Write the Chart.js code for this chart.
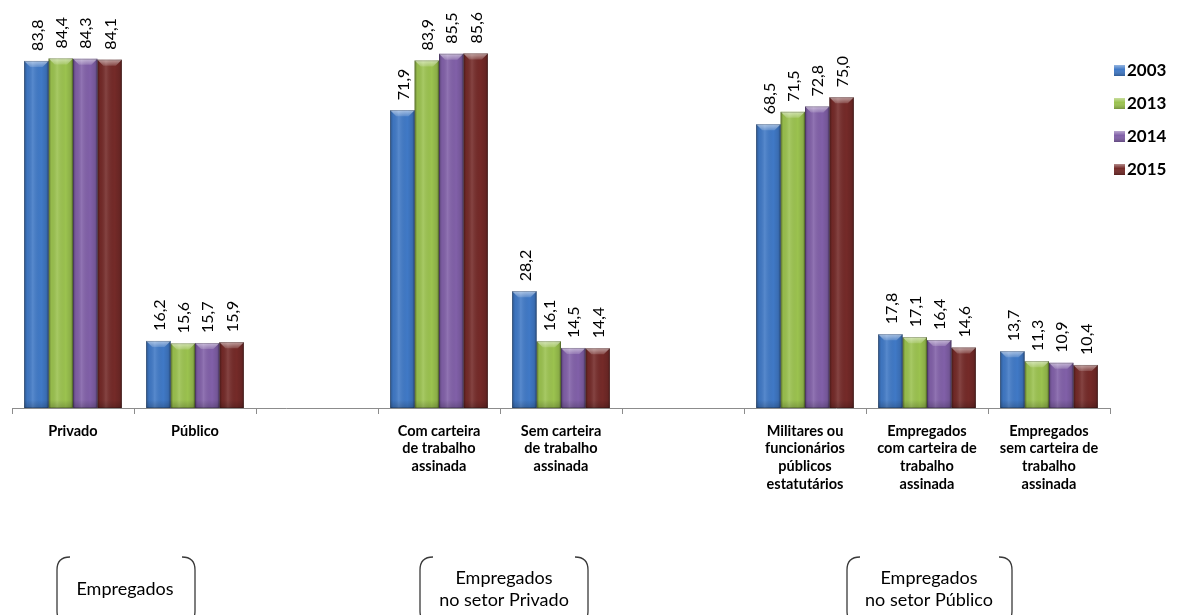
<!DOCTYPE html>
<html>
<head>
<meta charset="utf-8">
<script src="https://cdn.jsdelivr.net/npm/chart.js@4/dist/chart.umd.min.js"></script>
<style>
  html, body { margin: 0; padding: 0; background: #fff; }
  #wrap { width: 1187px; height: 615px; position: relative; }
</style>
</head>
<body>
<div id="wrap"><canvas id="c" width="1187" height="615"></canvas></div>
<script>
// Categories (blank slots separate the three groups)
const categories = [
  ['Privado'],
  ['Público'],
  '',
  ['Com carteira', 'de trabalho', 'assinada'],
  ['Sem carteira', 'de trabalho', 'assinada'],
  '',
  ['Militares ou', 'funcionários', 'públicos', 'estatutários'],
  ['Empregados', 'com carteira de', 'trabalho', 'assinada'],
  ['Empregados', 'sem carteira de', 'trabalho', 'assinada']
];

const years = ['2003', '2013', '2014', '2015'];

// Percentages per year
const values2003 = [83.8, 16.2, null, 71.9, 28.2, null, 68.5, 17.8, 13.7];
const values2013 = [84.4, 15.6, null, 83.9, 16.1, null, 71.5, 17.1, 11.3];
const values2014 = [84.3, 15.7, null, 85.5, 14.5, null, 72.8, 16.4, 10.9];
const values2015 = [84.1, 15.9, null, 85.6, 14.4, null, 75.0, 14.6, 10.4];

// Group captions shown in brackets below the axis
const groupCaptions = [
  ['Empregados'],
  ['Empregados', 'no setor Privado'],
  ['Empregados', 'no setor Público']
];

const seriesColors = ['#4079c6', '#9bc24f', '#8160a8', '#742a28'];
const FONT = 'Lato, "Open Sans", sans-serif';

const fmt = v => v.toFixed(1).replace('.', ',');

// Bevel / gloss on each bar
const bevelPlugin = {
  id: 'bevel',
  afterDatasetsDraw(chart) {
    const ctx = chart.ctx;
    chart.data.datasets.forEach((ds, di) => {
      const meta = chart.getDatasetMeta(di);
      meta.data.forEach((el, i) => {
        if (ds.data[i] == null) return;
        const p = el.getProps(['x', 'y', 'base', 'width'], true);
        const l = p.x - p.width / 2, r = p.x + p.width / 2;
        const t = p.y, b = p.base, w = p.width;
        ctx.save();
        // horizontal shading
        const g = ctx.createLinearGradient(l, 0, r, 0);
        g.addColorStop(0, 'rgba(0,0,0,0.30)');
        g.addColorStop(0.12, 'rgba(0,0,0,0.04)');
        g.addColorStop(0.35, 'rgba(255,255,255,0.12)');
        g.addColorStop(0.7, 'rgba(0,0,0,0.0)');
        g.addColorStop(0.9, 'rgba(0,0,0,0.10)');
        g.addColorStop(1, 'rgba(0,0,0,0.32)');
        ctx.fillStyle = g;
        ctx.fillRect(l, t, w, b - t);
        // top bevel
        const bv = Math.min(6, (b - t) / 2);
        const tg = ctx.createLinearGradient(0, t, 0, t + bv);
        tg.addColorStop(0, 'rgba(255,255,255,0.55)');
        tg.addColorStop(1, 'rgba(255,255,255,0.15)');
        ctx.fillStyle = tg;
        ctx.beginPath();
        ctx.moveTo(l, t);
        ctx.lineTo(r, t);
        ctx.lineTo(r - bv, t + bv);
        ctx.lineTo(l + bv, t + bv);
        ctx.closePath();
        ctx.fill();
        // bottom darkening
        const bg = ctx.createLinearGradient(0, b - 8, 0, b);
        bg.addColorStop(0, 'rgba(0,0,0,0)');
        bg.addColorStop(1, 'rgba(0,0,0,0.18)');
        ctx.fillStyle = bg;
        ctx.fillRect(l, b - 8, w, 8);
        // outline
        ctx.strokeStyle = 'rgba(0,0,0,0.25)';
        ctx.lineWidth = 0.8;
        ctx.strokeRect(l + 0.4, t + 0.4, w - 0.8, b - t - 0.8);
        ctx.restore();
      });
    });
  }
};

// Rotated value labels above bars
const valueLabelPlugin = {
  id: 'valueLabels',
  afterDatasetsDraw(chart) {
    const ctx = chart.ctx;
    ctx.save();
    ctx.font = '16px ' + FONT;
    ctx.fillStyle = '#000';
    ctx.textAlign = 'left';
    ctx.textBaseline = 'middle';
    chart.data.datasets.forEach((ds, di) => {
      const meta = chart.getDatasetMeta(di);
      meta.data.forEach((el, i) => {
        const v = ds.data[i];
        if (v == null) return;
        const p = el.getProps(['x', 'y'], true);
        ctx.save();
        ctx.translate(p.x + 1, p.y - 10);
        ctx.rotate(-Math.PI / 2);
        ctx.fillText(fmt(v), 0, 0);
        ctx.restore();
      });
    });
    ctx.restore();
  }
};

// Legend on the right
const sideLegendPlugin = {
  id: 'sideLegend',
  afterDraw(chart) {
    const ctx = chart.ctx;
    const x = 1114, y0 = 70, step = 33;
    ctx.save();
    ctx.font = 'bold 17px ' + FONT;
    ctx.textBaseline = 'middle';
    ctx.textAlign = 'left';
    chart.data.datasets.forEach((ds, i) => {
      const y = y0 + i * step;
      ctx.fillStyle = ds.backgroundColor;
      ctx.fillRect(x, y - 5, 11, 11);
      const g = ctx.createLinearGradient(0, y - 5, 0, y + 6);
      g.addColorStop(0, 'rgba(255,255,255,0.45)');
      g.addColorStop(0.4, 'rgba(255,255,255,0)');
      g.addColorStop(1, 'rgba(0,0,0,0.25)');
      ctx.fillStyle = g;
      ctx.fillRect(x, y - 5, 11, 11);
      ctx.fillStyle = '#000';
      ctx.fillText(ds.label, x + 13, y + 1);
    });
    ctx.restore();
  }
};

// Bracketed group captions
const groupBoxPlugin = {
  id: 'groupBoxes',
  afterDraw(chart) {
    const ctx = chart.ctx;
    const boxes = [
      { l: 57, r: 195, cx: 125 },
      { l: 420, r: 588, cx: 504 },
      { l: 847, r: 1012, cx: 929 }
    ];
    const top = 557, bottom = 624, rad = 13;
    ctx.save();
    ctx.strokeStyle = '#3a3a3a';
    ctx.lineWidth = 1.3;
    boxes.forEach((b, i) => {
      // left bracket
      ctx.beginPath();
      ctx.moveTo(b.l + rad, top);
      ctx.quadraticCurveTo(b.l, top, b.l, top + rad);
      ctx.lineTo(b.l, bottom - rad);
      ctx.quadraticCurveTo(b.l, bottom, b.l + rad, bottom);
      ctx.stroke();
      // right bracket
      ctx.beginPath();
      ctx.moveTo(b.r - rad, top);
      ctx.quadraticCurveTo(b.r, top, b.r, top + rad);
      ctx.lineTo(b.r, bottom - rad);
      ctx.quadraticCurveTo(b.r, bottom, b.r - rad, bottom);
      ctx.stroke();
      // caption
      ctx.fillStyle = '#000';
      ctx.font = '18px ' + FONT;
      ctx.textAlign = 'center';
      ctx.textBaseline = 'middle';
      const lines = groupCaptions[i];
      if (lines.length === 1) {
        ctx.fillText(lines[0], b.cx, 589);
      } else {
        lines.forEach((ln, k) => ctx.fillText(ln, b.cx, 578 + k * 22));
      }
    });
    ctx.restore();
  }
};

const datasets = [values2003, values2013, values2014, values2015].map((vals, i) => ({
  label: years[i],
  data: vals,
  backgroundColor: seriesColors[i],
  borderWidth: 0,
  categoryPercentage: 0.8,
  barPercentage: 1.0
}));

new Chart(document.getElementById('c'), {
  type: 'bar',
  data: { labels: categories, datasets },
  options: {
    responsive: false,
    animation: false,
    layout: { padding: { left: 12, right: 77, top: 0, bottom: 0 } },
    plugins: {
      legend: { display: false },
      tooltip: { enabled: false }
    },
    scales: {
      x: {
        grid: {
          display: true,
          offset: true,
          drawOnChartArea: false,
          drawTicks: true,
          tickLength: 6,
          color: '#8c8c8c'
        },
        border: { display: true, color: '#8c8c8c', width: 1 },
        ticks: {
          color: '#000',
          font: { family: FONT, size: 14.5, weight: 'bold', lineHeight: 1.22 },
          padding: 8,
          maxRotation: 0,
          autoSkip: false
        },
        afterFit(scale) { scale.height = 207; }
      },
      y: {
        display: false,
        min: 0,
        max: 98.5
      }
    }
  },
  plugins: [bevelPlugin, valueLabelPlugin, sideLegendPlugin, groupBoxPlugin]
});
</script>
</body>
</html>
